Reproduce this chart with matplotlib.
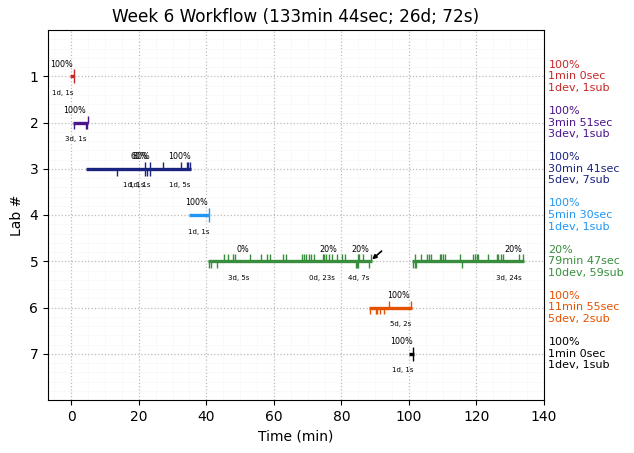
import matplotlib
matplotlib.use('Agg')
import matplotlib.pyplot as plt
from matplotlib.ticker import MultipleLocator

labs = [1, 2, 3, 4, 5, 6, 7]
colors = ['#c62828', '#4a148c', '#1a237e', '#2196f3', '#388e3c', '#e65100', '#000000']

# (start, end) of each work span, in minutes
spans = [[(-0.4, 0.9)], [(0.4, 5.0)], [(4.3, 35.6)], [(34.8, 40.9)],
         [(40.4, 89.0), (100.9, 134.1)], [(88.2, 100.8)], [(100.1, 101.4)]]

# ticks above the line
ups = [[0.8], [4.8], [21.8, 23.3, 27.2, 32.5, 34.3, 34.7, 35.3], [40.7],
       [45.3, 46.4, 48.0, 48.5, 53.0, 56.3, 57.9, 58.9, 62.8, 63.7, 68.4, 68.9, 69.5,
        70.5, 71.0, 71.8, 74.5, 74.9, 75.4, 76.2, 77.3, 78.7, 80.3, 81.1, 84.8, 85.3, 86.5, 88.8,
        101.8, 103.5, 105.3, 105.8, 106.4, 109.1, 109.6, 110.1, 110.6, 115.0, 118.9, 119.5,
        120.1, 120.6, 123.3, 126.0, 126.4, 127.4, 127.9, 132.5, 133.8],
       [94.2, 100.5], [101.3]]

# ticks below the line
downs = [[0.8], [0.8, 4.4, 4.7], [13.5, 21.8, 22.3, 23.3], [40.7],
         [40.9, 41.5, 43.2, 84.2, 84.5, 84.8, 88.3, 101.2, 101.7, 102.1, 115.7],
         [88.6, 90.1, 90.4, 91.4, 92.5], [101.3]]

# (x, text) labels over and under the lines
top_labels = [[(-2.9, '100%')], [(1.0, '100%')], [(20.2, '60%'), (20.7, '80%'), (32.0, '100%')],
              [(37.2, '100%')],
              [(50.8, '0%'), (76.1, '20%'), (85.6, '20%'), (130.9, '20%')],
              [(96.8, '100%')], [(97.7, '100%')]]
bottom_labels = [[(-2.4, '1d, 1s')], [(1.4, '3d, 1s')], [(18.4, '1d, 1s'), (20.3, '1d, 1s'), (32.0, '1d, 5s')],
                 [(37.8, '1d, 1s')],
                 [(49.5, '3d, 5s'), (74.3, '0d, 23s'), (85.2, '4d, 7s'), (129.6, '3d, 24s')],
                 [(97.4, '5d, 2s')], [(98.3, '1d, 1s')]]

side_text = ['100%\n1min 0sec\n1dev, 1sub', '100%\n3min 51sec\n3dev, 1sub',
             '100%\n30min 41sec\n5dev, 7sub', '100%\n5min 30sec\n1dev, 1sub',
             '20%\n79min 47sec\n10dev, 59sub', '100%\n11min 55sec\n5dev, 2sub',
             '100%\n1min 0sec\n1dev, 1sub']

fig = plt.figure(figsize=(6.34, 4.53), dpi=100)
ax = fig.add_axes([48 / 634, 1 - 400 / 453, 496 / 634, 370 / 453])

for i, lab in enumerate(labs):
    c = colors[i]
    for a, b in spans[i]:
        ax.plot([a, b], [lab, lab], color=c, lw=2.4, solid_capstyle='butt', zorder=3)
    ax.vlines(ups[i], lab - 0.15, lab, color=c, lw=1.0, zorder=3)
    ax.vlines(downs[i], lab, lab + 0.15, color=c, lw=1.0, zorder=3)
    for x, s in top_labels[i]:
        ax.text(x, lab - 0.26, s, fontsize=5.8, ha='center', va='center')
    for x, s in bottom_labels[i]:
        ax.text(x, lab + 0.36, s, fontsize=5, ha='center', va='center')
    ax.text(141.3, lab, side_text[i], color=c, fontsize=8, ha='left', va='center', clip_on=False)

ax.annotate('', xy=(89.1, 4.96), xytext=(91.9, 4.78),
            arrowprops=dict(arrowstyle='-|>', color='black', lw=1.2, shrinkA=0, shrinkB=0, mutation_scale=6))

ax.set_xlim(-6.9, 140)
ax.set_ylim(8, 0)
ax.set_yticks(labs)
ax.xaxis.set_major_locator(MultipleLocator(20))
ax.xaxis.set_minor_locator(MultipleLocator(5))
ax.yaxis.set_minor_locator(MultipleLocator(0.2))
ax.grid(which='major', color='#bbbbbb', linestyle=':', linewidth=0.9)
ax.grid(which='minor', color='#f5f5f5', linestyle='-', linewidth=0.4)
ax.tick_params(which='minor', length=0)
ax.tick_params(axis='both', which='major', labelsize=10)
ax.set_axisbelow(True)
ax.set_xlabel('Time (min)')
ax.set_ylabel('Lab #')
ax.set_title('Week 6 Workflow (133min 44sec; 26d; 72s)', fontsize=12.13)

plt.savefig('out.png', dpi=100)
